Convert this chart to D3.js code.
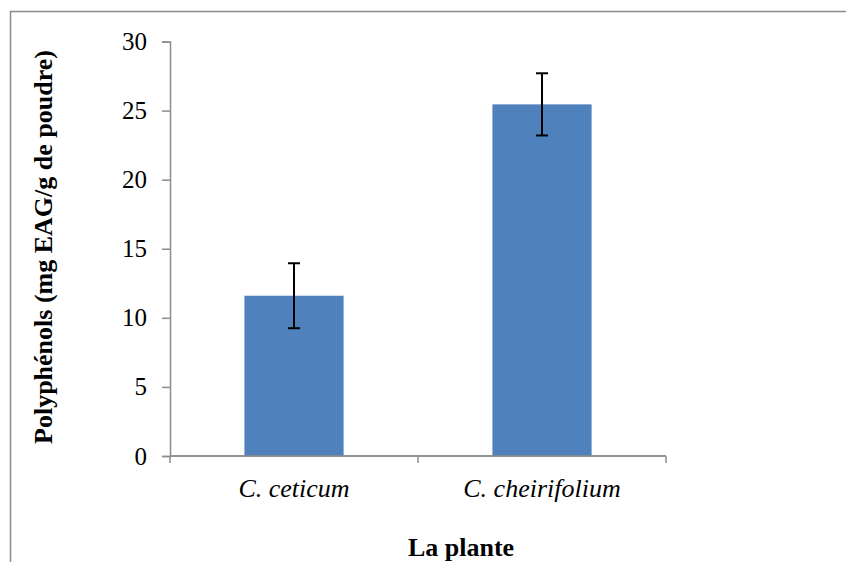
<!DOCTYPE html>
<html>
<head>
<meta charset="utf-8">
<script src="https://cdnjs.cloudflare.com/ajax/libs/d3/7.8.5/d3.min.js"></script>
<style>
  body { margin: 0; background: #fff; }
  .axis path, .axis line { stroke: #8c8c8c; stroke-width: 1.5; }
</style>
</head>
<body>
<script>
// data
var plants = ["C. ceticum", "C. cheirifolium"];
var means = [11.6, 25.45];
var errs = [2.35, 2.25];
var yTicks = [0, 5, 10, 15, 20, 25, 30];

var serif = "'Liberation Serif', 'Times New Roman', Times, serif";
var W = 846, H = 562;
var m = {left: 170, top: 41.5, right: 180, bottom: 106};

var svg = d3.select("body").append("svg")
  .attr("width", W).attr("height", H)
  .attr("font-family", serif);

// outer frame (top and left edges visible)
svg.append("path")
  .attr("d", "M10.5," + H + "V11.5H" + W)
  .attr("fill", "none").attr("stroke", "#8c8c8c").attr("stroke-width", 1.5);

var x = d3.scaleBand().domain(plants)
  .range([m.left, W - m.right]).paddingInner(0.6).paddingOuter(0.3);
var y = d3.scaleLinear().domain([0, 30]).range([H - m.bottom, m.top]);

// y axis
var gy = svg.append("g").attr("class", "axis")
  .attr("transform", "translate(" + m.left + ",0)")
  .call(d3.axisLeft(y).tickValues(yTicks).tickSize(8).tickPadding(15));
gy.attr("font-family", serif).attr("font-size", 25);
gy.selectAll("text").style("font-family", serif).attr("fill", "#000");

// x axis: ticks at band boundaries
var x0 = m.left, x1 = W - m.right;
var step = (x1 - x0) / plants.length;
var gx = svg.append("g").attr("class", "axis");
gx.append("line").attr("x1", x0).attr("x2", x1)
  .attr("y1", y(0)).attr("y2", y(0));
d3.range(plants.length + 1).forEach(function(i) {
  gx.append("line").attr("x1", x0 + i * step).attr("x2", x0 + i * step)
    .attr("y1", y(0)).attr("y2", y(0) + 7);
});

// bars
svg.selectAll("rect.bar").data(plants).enter().append("rect")
  .attr("class", "bar")
  .attr("x", function(d) { return x(d); })
  .attr("width", x.bandwidth())
  .attr("y", function(d, i) { return y(means[i]); })
  .attr("height", function(d, i) { return y(0) - y(means[i]); })
  .attr("fill", "#4f81bd");

// redraw baseline on top of bars
svg.append("line").attr("x1", x0).attr("x2", x1)
  .attr("y1", y(0)).attr("y2", y(0))
  .attr("stroke", "#8c8c8c").attr("stroke-width", 1.5);

// error bars
var eb = svg.selectAll("g.err").data(plants).enter().append("g")
  .attr("stroke", "#000").attr("stroke-width", 2);
eb.append("line")
  .attr("x1", function(d) { return x(d) + x.bandwidth() / 2; })
  .attr("x2", function(d) { return x(d) + x.bandwidth() / 2; })
  .attr("y1", function(d, i) { return y(means[i] + errs[i]); })
  .attr("y2", function(d, i) { return y(means[i] - errs[i]); });
[1, -1].forEach(function(s) {
  eb.append("line")
    .attr("x1", function(d) { return x(d) + x.bandwidth() / 2 - 6; })
    .attr("x2", function(d) { return x(d) + x.bandwidth() / 2 + 6; })
    .attr("y1", function(d, i) { return y(means[i] + s * errs[i]); })
    .attr("y2", function(d, i) { return y(means[i] + s * errs[i]); });
});

// category labels
svg.selectAll("text.cat").data(plants).enter().append("text")
  .attr("x", function(d) { return x(d) + x.bandwidth() / 2; })
  .attr("y", 497)
  .attr("text-anchor", "middle")
  .style("font-family", serif)
  .style("font-size", "26px").style("font-style", "italic")
  .text(function(d) { return d; });

// axis titles
svg.append("text")
  .attr("x", 461).attr("y", 556)
  .attr("text-anchor", "middle")
  .style("font-family", serif)
  .style("font-size", "26px").style("font-weight", "bold")
  .text("La plante");

svg.append("text")
  .attr("transform", "translate(52,247) rotate(-90)")
  .attr("text-anchor", "middle")
  .style("font-family", serif)
  .style("font-size", "26px").style("font-weight", "bold")
  .text("Polyphénols (mg EAG/g de poudre)");
</script>
</body>
</html>
